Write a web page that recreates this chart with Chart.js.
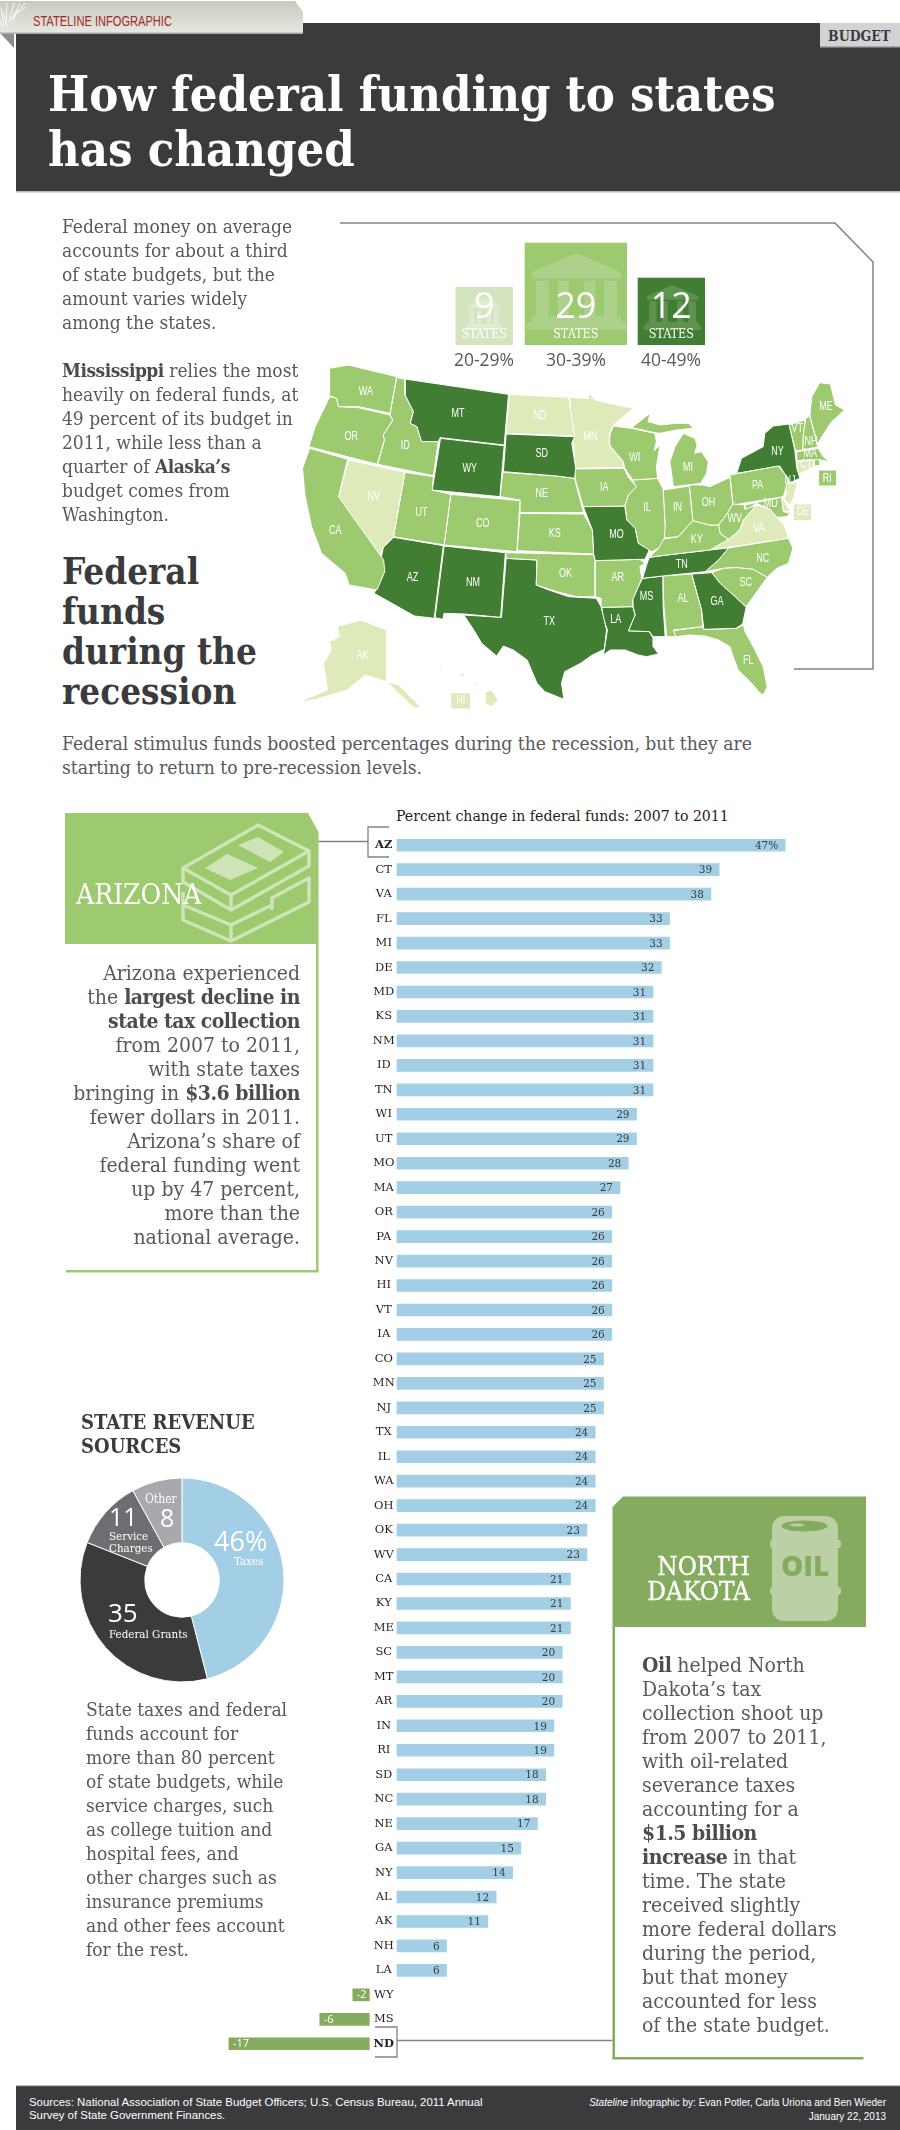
<!DOCTYPE html>
<html>
<head>
<meta charset="utf-8">
<title>How federal funding to states has changed</title>
<script src="https://cdn.jsdelivr.net/npm/chart.js@4"></script>
<style>
  html, body { margin: 0; padding: 0; background: #fff; }
  #page { position: relative; width: 900px; height: 2130px; overflow: hidden; font-family: "DejaVu Serif Condensed", "DejaVu Serif", serif; color: #58595b; }
  #page svg.bg { position: absolute; left: 0; top: 0; }
  canvas { position: absolute; }
  .t { position: absolute; white-space: nowrap; }
  .body { font-size: 19px; line-height: 24px; }
  .body b { color: #4b4c4e; letter-spacing: -0.5px; }
  .big { font-size: 21px; }
  .white { color: #fff; }
  .sans { font-family: "Open Sans", sans-serif; }
</style>
</head>
<body>
<div id="page">
<svg class="bg" width="900" height="2130" viewBox="0 0 900 2130">
  <defs>
    <linearGradient id="tabFill" x1="0" y1="0" x2="0" y2="1">
      <stop offset="0" stop-color="#c9c9bd"/><stop offset="1" stop-color="#e8e8e3"/>
    </linearGradient>
    <symbol id="temple" viewBox="0 0 100 100" preserveAspectRatio="none">
      <path fill="currentColor" d="M50 0 L95 25 L95 33 L5 33 L5 25 Z M9 36 H22 V82 H9 Z M31 36 H42 V82 H31 Z M58 36 H69 V82 H58 Z M78 36 H91 V82 H78 Z M5 82 H95 V90 H5 Z M0 90 H100 V100 H0 Z"/>
    </symbol>
  </defs>

  <!-- header -->
  <rect x="16" y="23" width="884" height="169" fill="#3b3b3d"/>
  <rect x="16" y="191" width="884" height="1.5" fill="#bcbec0"/>
  <polygon points="0,33 14,33 14,48" fill="#8a8c8e"/>
  <polygon points="0,1 295,1 303,12 303,33 0,33" fill="url(#tabFill)"/>
  <rect x="0" y="32.5" width="303" height="1.5" fill="#a7a9ac"/>
  <g stroke="#fff" stroke-width="1" opacity=".85">
    <line x1="4" y1="26" x2="1" y2="8"/><line x1="6" y1="24" x2="7" y2="3"/><line x1="9" y1="22" x2="14" y2="3"/>
    <line x1="11" y1="20" x2="20" y2="4"/><line x1="13" y1="18" x2="25" y2="3"/><line x1="14" y1="15" x2="26" y2="7"/>
    <line x1="3" y1="28" x2="0" y2="20"/><line x1="7" y1="26" x2="3" y2="12"/><line x1="12" y1="22" x2="18" y2="10"/>
  </g>
  <rect x="820" y="23" width="80" height="24" fill="#d1d3d4"/>
  <rect x="820" y="46" width="80" height="1.5" fill="#a7a9ac"/>

  <!-- frame around the map -->
  <polyline points="340,223 835,223 873,262 873,669 794,669" fill="none" stroke="#808285" stroke-width="1.5"/>

  <!-- legend tiles -->
  <rect x="455.5" y="287" width="57.5" height="58" fill="#d3e4bf"/>
  <svg x="466" y="298" width="36" height="32" color="#dfecd0"><use href="#temple" width="36" height="32"/></svg>
  <rect x="524.7" y="242.7" width="102.3" height="102.3" fill="#9dca6f"/>
  <svg x="527" y="253" width="99" height="77" color="#add18a"><use href="#temple" width="99" height="77"/></svg>
  <rect x="637.7" y="277.7" width="67.3" height="67.3" fill="#417e33"/>
  <svg x="644" y="285" width="57" height="45" color="#5d934f"><use href="#temple" width="57" height="45"/></svg>

  <!-- Arizona panel -->
  <polygon points="65,813 308,813 318.5,832 318.5,944 65,944" fill="#9dca6f"/>
  <g fill="none" stroke="#cfe4b8" stroke-width="3.5" stroke-linejoin="round">
    <polygon points="258,825 309,851 231,895 183,868"/>
    <polyline points="183,868 183,882 231,910 309,866 309,851"/>
    <line x1="231" y1="895" x2="231" y2="910"/>
    <polyline points="183,892 183,920 231,941 309,902 309,878 272,898 272,910"/>
    <line x1="231" y1="925" x2="231" y2="941"/>
    <line x1="183" y1="905" x2="231" y2="925"/>
    <line x1="231" y1="925" x2="272" y2="905"/>
  </g>
  <g fill="#cfe4b8">
    <polygon points="227,854 258,868 230,880 205,868"/>
    <polygon points="258,837 284,852 270,862 238,845"/>
  </g>
  <rect x="316" y="944" width="2.5" height="328" fill="#9dca6f"/>
  <rect x="66" y="1270" width="252.5" height="2.5" fill="#9dca6f"/>
  <polyline points="318.5,841.5 368,841.5" fill="none" stroke="#808285" stroke-width="1.3"/>
  <polyline points="389,827 368,827 368,857 389,857" fill="none" stroke="#808285" stroke-width="1.3"/>

  <!-- North Dakota panel -->
  <polygon points="623,1496.5 866,1496.5 866,1627 612.5,1627 612.5,1507" fill="#85ac5e"/>
  <rect x="612.5" y="1627" width="2.5" height="432" fill="#85ac5e"/>
  <rect x="612.5" y="2057" width="251" height="2.5" fill="#85ac5e"/>
  <g fill="#bbd0a4">
    <rect x="772" y="1516" width="66" height="105" rx="12"/>
    <rect x="770" y="1540" width="71" height="8" rx="3"/>
    <rect x="770" y="1587" width="71" height="8" rx="3"/>
  </g>
  <ellipse cx="804.5" cy="1526" rx="23" ry="5.5" fill="#85ac5e"/>
  <ellipse cx="797" cy="1525" rx="7" ry="1.6" fill="#bbd0a4"/>
  <polyline points="397,2040.5 612.5,2040.5" fill="none" stroke="#808285" stroke-width="1.3"/>
  <polyline points="375,2027 397,2027 397,2057 375,2057" fill="none" stroke="#808285" stroke-width="1.3"/>

  <!-- footer -->
  <rect x="16" y="2085" width="884" height="45" fill="#3b3b3d"/>
  <rect x="16" y="2085" width="884" height="1.2" fill="#bcbec0"/>
</svg>

<canvas id="mapChart" style="left:280px;top:210px" width="620" height="520"></canvas>
<canvas id="barChart" style="left:200px;top:832.5px" width="600" height="1223"></canvas>
<canvas id="donutChart" style="left:72px;top:1470px" width="220" height="220"></canvas>

<div class="t" style="left:33px;top:13px;font:15px/16px 'Liberation Sans',sans-serif;color:#9e2a2b;transform:scaleX(.74);transform-origin:left center;">STATELINE INFOGRAPHIC</div>
<div class="t" style="left:828px;top:27px;font-size:14px;line-height:18px;font-weight:bold;color:#3b3b3d;">BUDGET</div>
<div class="t white" style="left:48px;top:65.7px;font-size:48.5px;line-height:55px;font-weight:bold;">How federal funding to states<br>has changed</div>

<div class="t body" style="left:62px;top:214.4px;">Federal money on average<br>accounts for about a third<br>of state budgets, but the<br>amount varies widely<br>among the states.</div>
<div class="t body" style="left:62px;top:358.4px;"><b>Mississippi</b> relies the most<br>heavily on federal funds, at<br>49 percent of its budget in<br>2011, while less than a<br>quarter of <b>Alaska’s</b><br>budget comes from<br>Washington.</div>
<div class="t" style="left:62px;top:552.4px;font-size:36.5px;line-height:40px;font-weight:bold;color:#3b3b3d;">Federal<br>funds<br>during the<br>recession</div>
<div class="t body" style="left:62px;top:732.4px;font-size:19.15px;">Federal stimulus funds boosted percentages during the recession, but they are<br>starting to return to pre-recession levels.</div>

<!-- legend tile text -->
<div class="t white sans" style="left:455.5px;width:57.5px;top:280px;text-align:center;font-size:36px;line-height:50px;">9</div>
<div class="t white sans" style="left:524.7px;width:102.3px;top:280px;text-align:center;font-size:36px;line-height:50px;">29</div>
<div class="t white sans" style="left:637.7px;width:67.3px;top:280px;text-align:center;font-size:36px;line-height:50px;">12</div>
<div class="t white" style="left:455.5px;width:57.5px;top:326px;text-align:center;font-size:12.5px;line-height:16px;">STATES</div>
<div class="t white" style="left:524.7px;width:102.3px;top:326px;text-align:center;font-size:12.5px;line-height:16px;">STATES</div>
<div class="t white" style="left:637.7px;width:67.3px;top:326px;text-align:center;font-size:12.5px;line-height:16px;">STATES</div>
<div class="t sans" style="left:444px;width:80px;top:348px;text-align:center;font-size:17.5px;line-height:22px;">20-29%</div>
<div class="t sans" style="left:536px;width:80px;top:348px;text-align:center;font-size:17.5px;line-height:22px;">30-39%</div>
<div class="t sans" style="left:631px;width:80px;top:348px;text-align:center;font-size:17.5px;line-height:22px;">40-49%</div>

<!-- Arizona -->
<div class="t white" style="left:76px;top:878px;font-size:28px;line-height:34px;">ARIZONA</div>
<div class="t body big" style="left:30px;width:270px;top:960.7px;text-align:right;">Arizona experienced<br>the <b>largest decline in</b><br><b>state tax collection</b><br>from 2007 to 2011,<br>with state taxes<br>bringing in <b>$3.6 billion</b><br>fewer dollars in 2011.<br>Arizona’s share of<br>federal funding went<br>up by 47 percent,<br>more than the<br>national average.</div>
<div class="t" style="left:396px;top:806px;font-size:15.7px;line-height:20px;color:#231f20;">Percent change in federal funds: 2007 to 2011</div>

<!-- donut -->
<div class="t" style="left:81px;top:1410px;font-size:20px;line-height:24px;font-weight:bold;color:#3b3b3d;">STATE REVENUE<br>SOURCES</div>
<div class="t white sans" style="left:214px;top:1524px;font-size:27px;line-height:34px;">46%</div>
<div class="t white" style="left:234px;top:1554px;font-size:11.5px;line-height:14px;">Taxes</div>
<div class="t white" style="left:145px;top:1492px;font-size:12px;line-height:14px;">Other</div>
<div class="t white sans" style="left:160px;top:1500px;font-size:25px;line-height:34px;">8</div>
<div class="t white sans" style="left:109px;top:1499px;font-size:25px;line-height:34px;">11</div>
<div class="t white" style="left:109px;top:1530px;font-size:11.5px;line-height:12px;">Service<br>Charges</div>
<div class="t white sans" style="left:108px;top:1595px;font-size:26px;line-height:34px;">35</div>
<div class="t white" style="left:109px;top:1627px;font-size:11.5px;line-height:14px;">Federal Grants</div>
<div class="t body" style="left:86px;top:1697.4px;">State taxes and federal<br>funds account for<br>more than 80 percent<br>of state budgets, while<br>service charges, such<br>as college tuition and<br>hospital fees, and<br>other charges such as<br>insurance premiums<br>and other fees account<br>for the rest.</div>

<!-- North Dakota -->
<div class="t white" style="left:600px;width:150px;top:1554px;text-align:right;font-size:26px;line-height:25px;-webkit-text-stroke:.3px #fff;">NORTH<br>DAKOTA</div>
<div class="t" style="left:781px;top:1550px;font-size:28px;line-height:30px;font-weight:800;color:#85ac5e;font-family:'Open Sans',sans-serif;">OIL</div>
<div class="t body big" style="left:642px;top:1652.7px;"><b>Oil</b> helped North<br>Dakota’s tax<br>collection shoot up<br>from 2007 to 2011,<br>with oil-related<br>severance taxes<br>accounting for a<br><b>$1.5 billion</b><br><b>increase</b> in that<br>time. The state<br>received slightly<br>more federal dollars<br>during the period,<br>but that money<br>accounted for less<br>of the state budget.</div>

<!-- footer -->
<div class="t white" style="left:29px;top:2096px;font:11.4px/13px 'Liberation Sans',sans-serif;">Sources: National Association of State Budget Officers; U.S. Census Bureau, 2011 Annual<br>Survey of State Government Finances.</div>
<div class="t white" style="right:14px;top:2096px;text-align:right;font:10px/14px 'Liberation Sans',sans-serif;"><i>Stateline</i> infographic by: Evan Potler, Carla Uriona and Ben Wieder<br>January 22, 2013</div>
</div>

<script>
// percent change in federal funds, 2007 to 2011
const stateCodes = ["AZ","CT","VA","FL","MI","DE","MD","KS","NM","ID","TN","WI","UT","MO","MA","OR","PA","NV","HI","VT","IA","CO","MN","NJ","TX","IL","WA","OH","OK","WV","CA","KY","ME","SC","MT","AR","IN","RI","SD","NC","NE","GA","NY","AL","AK","NH","LA","WY","MS","ND"];
const pctChange = [47,39,38,33,33,32,31,31,31,31,31,29,29,28,27,26,26,26,26,26,26,25,25,25,24,24,24,24,23,23,21,21,21,20,20,20,19,19,18,18,17,15,14,12,11,6,6,-2,-6,-17];

// revenue sources
const revenueLabels = ["Taxes","Federal Grants","Service Charges","Other"];
const revenueValues = [46,35,11,8];

// map tiers: share of the state budget that comes from federal funds
const tierLow = ["ND","MN","NV","VA","AK","HI","DE","NJ","CT"];
const tierHigh = ["MT","WY","SD","MO","AZ","NM","TX","LA","MS","TN","GA","NY"];

// state outlines on a 1568 x 1560 grid
const WA = [[[125,475],[173,465],[295,500],[278,610],[240,600],[198,590],[148,590],[143,565],[126,557],[126,525]]];
const OR = [[[126,560],[143,565],[148,590],[198,593],[278,615],[285,630],[261,675],[264,690],[246,763],[73,710],[89,650]]];
const CA = [[[75,715],[171,748],[148,860],[262,1050],[265,1085],[245,1140],[175,1125],[165,1090],[105,1030],[80,950],[63,855],[57,775]]];
const NV = [[[173,750],[316,787],[287,980],[261,1013],[250,1040],[148,860]]];
const ID = [[[295,503],[316,507],[316,555],[337,605],[329,640],[346,650],[358,695],[400,695],[388,797],[247,763],[264,690],[261,675],[285,630],[278,613]]];
const MT = [[[316,507],[578,553],[567,705],[405,683],[400,697],[358,697],[346,650],[329,640],[337,605],[316,555]]];
const WY = [[[406,685],[567,707],[556,860],[385,840]]];
const UT = [[[316,787],[388,800],[385,840],[432,853],[415,1005],[287,980]]];
const CO = [[[432,853],[607,872],[599,1025],[415,1005]]];
const AZ = [[[287,982],[413,1007],[390,1225],[340,1218],[238,1150],[262,1090],[255,1050],[261,1013]]];
const NM = [[[415,1008],[570,1028],[558,1222],[465,1212],[415,1210],[412,1228],[392,1223]]];
const ND = [[[580,553],[730,562],[745,678],[572,670]]];
const SD = [[[572,672],[745,680],[738,700],[748,775],[745,805],[700,798],[565,785]]];
const NE = [[[563,787],[700,798],[745,805],[750,830],[768,908],[607,908],[607,870],[557,860]]];
const KS = [[[607,910],[768,912],[790,960],[793,1032],[600,1022]]];
const OK = [[[571,1028],[793,1034],[797,1052],[797,1160],[750,1160],[700,1145],[648,1125],[650,1050],[572,1045]]];
const TX = [[[572,1045],[650,1050],[648,1125],[680,1140],[730,1160],[800,1165],[812,1190],[826,1260],[820,1318],[790,1335],[760,1360],[720,1385],[712,1420],[718,1468],[670,1445],[650,1420],[625,1350],[590,1320],[565,1308],[548,1338],[510,1300],[490,1260],[465,1215],[560,1222]]];
const MN = [[[733,562],[780,565],[782,548],[797,570],[834,580],[893,595],[843,645],[834,670],[833,705],[868,755],[870,772],[746,775],[743,705],[740,690]]];
const IA = [[[746,777],[870,775],[881,802],[902,830],[881,855],[872,888],[767,890],[746,805]]];
const MO = [[[767,890],[872,888],[877,930],[898,955],[906,1000],[934,1020],[923,1048],[910,1048],[797,1052],[793,1032],[790,960]]];
const AR = [[[797,1052],[910,1048],[923,1060],[910,1070],[915,1105],[892,1170],[892,1190],[814,1192],[812,1165],[797,1160]]];
const LA = [[[814,1192],[892,1190],[898,1215],[881,1263],[934,1265],[944,1285],[944,1310],[957,1332],[927,1340],[906,1335],[873,1320],[835,1320],[818,1335],[828,1260],[816,1220]]];
const WI = [[[843,648],[889,655],[948,670],[952,695],[946,722],[961,705],[952,770],[955,805],[892,810],[872,775],[868,755],[833,705],[834,675]]];
const IL = [[[892,810],[955,805],[969,838],[974,950],[972,985],[957,1015],[940,1025],[906,1000],[898,955],[877,930],[872,887],[881,855],[900,830]]];
const MI = [[[889,653],[936,610],[931,635],[961,645],[999,640],[1033,640],[1045,655],[1003,660],[961,670],[948,668]],[[995,830],[986,755],[999,710],[1020,670],[1049,685],[1055,705],[1049,730],[1066,725],[1083,755],[1079,790],[1064,820]]];
const IN = [[[969,840],[1035,828],[1044,932],[1007,980],[965,985],[974,950]]];
const OH = [[[1035,825],[1070,825],[1087,830],[1138,802],[1145,882],[1130,912],[1109,945],[1087,945],[1044,932]]];
const KY = [[[965,988],[1007,980],[1044,932],[1087,945],[1109,945],[1113,970],[1134,988],[1087,1020],[978,1035],[934,1042],[957,1015]]];
const TN = [[[934,1042],[978,1035],[1087,1020],[1134,1014],[1109,1050],[1075,1085],[968,1098],[917,1105],[927,1065]]];
const MS = [[[917,1105],[968,1098],[969,1190],[974,1280],[944,1280],[934,1265],[881,1263],[898,1215],[889,1170],[906,1130]]];
const AL = [[[968,1098],[1041,1092],[1066,1200],[1069,1250],[995,1260],[1001,1280],[978,1280],[971,1190]]];
const GA = [[[1041,1092],[1092,1088],[1113,1120],[1151,1160],[1179,1192],[1170,1242],[1153,1255],[1072,1258],[1066,1200]]];
const FL = [[[993,1262],[1069,1250],[1072,1258],[1153,1255],[1172,1245],[1176,1265],[1197,1310],[1222,1370],[1232,1430],[1222,1455],[1210,1445],[1197,1425],[1159,1380],[1146,1340],[1138,1310],[1109,1290],[1075,1278],[1037,1275],[1001,1280]]];
const SC = [[[1092,1088],[1121,1075],[1155,1073],[1197,1078],[1232,1102],[1197,1160],[1179,1190],[1151,1160],[1113,1120]]];
const NC = [[[1134,1014],[1286,985],[1297,1015],[1286,1060],[1256,1075],[1232,1102],[1197,1078],[1155,1073],[1121,1075],[1075,1085],[1109,1050]]];
const VA = [[[1087,1020],[1109,1000],[1134,988],[1163,960],[1172,930],[1205,885],[1239,897],[1256,922],[1275,945],[1286,985]]];
const WV = [[[1113,970],[1109,945],[1130,912],[1145,882],[1176,885],[1176,898],[1205,885],[1172,930],[1163,960],[1134,988]]];
const PA = [[[1138,795],[1260,768],[1286,805],[1273,860],[1146,885]]];
const NY = [[[1287,642],[1302,720],[1307,775],[1315,805],[1290,818],[1264,768],[1155,790],[1167,745],[1222,710],[1226,670],[1248,648]],[[1305,810],[1340,785],[1312,803]]];
const NJ = [[[1286,805],[1305,815],[1307,825],[1300,860],[1290,885],[1275,868],[1282,845],[1272,835]]];
const DE = [[[1269,863],[1275,870],[1291,905],[1273,905]],[[1298,882],[1345,882],[1345,932],[1298,932]]];
const MD = [[[1176,885],[1214,875],[1269,862],[1273,905],[1290,910],[1281,920],[1256,922],[1239,897],[1205,880],[1180,900]]];
const CT = [[[1307,755],[1349,750],[1350,770],[1308,795]]];
const RI = [[[1350,750],[1364,748],[1366,765],[1352,768]],[[1362,780],[1408,780],[1408,828],[1362,828]]];
const MA = [[[1307,725],[1361,715],[1374,740],[1391,755],[1366,750],[1307,752]]];
const VT = [[[1287,645],[1328,630],[1323,680],[1322,720],[1304,722]]];
const NH = [[[1330,625],[1339,618],[1361,710],[1322,720],[1323,670]]];
const ME = [[[1340,618],[1345,560],[1365,518],[1392,522],[1405,585],[1428,600],[1395,635],[1365,690],[1360,705]]];
const AK = [[[145,1250],[205,1230],[270,1260],[270,1415],[300,1425],[355,1490],[340,1495],[300,1450],[270,1415],[215,1395],[170,1440],[90,1468],[45,1478],[120,1440],[110,1360],[130,1320],[125,1295],[150,1280]]];
const HI = [[[520,1445],[535,1440],[552,1470],[535,1490],[520,1480]],[[450,1385],[470,1395],[460,1400]],[[400,1365],[412,1370],[405,1375]],[[490,1415],[505,1425],[495,1425]],[[432,1448],[482,1448],[482,1497],[432,1497]]];

const stateShapes = {WA,OR,CA,NV,ID,MT,WY,UT,CO,AZ,NM,ND,SD,NE,KS,OK,TX,MN,IA,MO,AR,LA,WI,IL,MI,IN,OH,KY,TN,MS,AL,GA,FL,SC,NC,VA,WV,PA,NY,NJ,DE,MD,CT,RI,MA,VT,NH,ME,AK,HI};

// where each state's code sits on the same grid
const mapLabels = [["WA",217,546],["OR",180,679],["CA",140,961],["NV",237,861],["ID",317,708],["MT",450,610],["WY",480,777],["UT",358,909],["CO",513,942],["AZ",335,1104],["NM",488,1119],["ND",657,618],["SD",662,732],["NE",662,852],["KS",695,972],["OK",722,1092],["TX",681,1236],["MN",785,681],["IA",820,832],["MO",851,975],["AR",854,1102],["LA",849,1230],["WI",897,744],["IL",928,892],["MI",1032,774],["IN",1005,892],["OH",1084,879],["KY",1054,988],["TN",1016,1065],["MS",927,1161],["AL",1019,1167],["GA",1105,1176],["FL",1184,1353],["SC",1178,1119],["NC",1221,1047],["VA",1211,957],["WV",1150,927],["PA",1208,828],["NY",1258,726],["ME",1381,591],["VT",1308,655],["NH",1343,695],["MA",1341,730],["CT",1330,763],["RI",1384,807],["NJ",1290,812],["DE",1323,906],["MD",1241,880],["AK",209,1338],["HI",457,1473]];

const LOW = "#deeaba", MID = "#9dca6f", HIGH = "#417e33";

function tierColor(code) {
  if (tierLow.includes(code)) return LOW;
  if (tierHigh.includes(code)) return HIGH;
  return MID;
}

// --- map ---
const mapDatasets = [];
Object.keys(stateShapes).forEach(code => {
  stateShapes[code].forEach(part => {
    const closed = part.concat([part[0]]);
    mapDatasets.push({
      data: closed.map(p => ({x: p[0], y: p[1]})),
      showLine: true,
      fill: "shape",
      backgroundColor: tierColor(code),
      borderColor: "#fff",
      borderWidth: 1,
      pointRadius: 0,
      tension: 0
    });
  });
});

const mapLabelPlugin = {
  id: "mapLabels",
  afterDatasetsDraw(chart) {
    const {ctx, scales} = chart;
    ctx.save();
    ctx.font = "11px 'Liberation Sans', sans-serif";
    ctx.fillStyle = "#fff";
    ctx.textAlign = "center";
    ctx.textBaseline = "middle";
    mapLabels.forEach(l => {
      ctx.save();
      ctx.translate(scales.x.getPixelForValue(l[1]), scales.y.getPixelForValue(l[2]));
      ctx.scale(0.82, 1.1);
      ctx.fillText(l[0], 0, 0);
      ctx.restore();
    });
    ctx.restore();
  }
};

new Chart(document.getElementById("mapChart"), {
  type: "scatter",
  data: {datasets: mapDatasets},
  plugins: [mapLabelPlugin],
  options: {
    responsive: false,
    animation: false,
    layout: {padding: 0},
    plugins: {legend: {display: false}, tooltip: {enabled: false}},
    scales: {
      x: {type: "linear", min: 0, max: 1568, display: false},
      y: {type: "linear", min: 0, max: 1560, reverse: true, display: false}
    }
  }
});

// --- bars ---
// negative bars hang off their own zero, left of the state codes
const barValueLabels = {
  id: "barValueLabels",
  afterDatasetsDraw(chart) {
    const {ctx, scales} = chart;
    ctx.save();
    ctx.textBaseline = "middle";
    stateCodes.forEach((code, i) => {
      const y = scales.y.getPixelForTick(i);
      const v = pctChange[i];
      ctx.textAlign = "center";
      ctx.fillStyle = "#231f20";
      ctx.font = (code === "AZ" || code === "ND" ? "bold " : "") + "11.5px 'DejaVu Serif'";
      ctx.fillText(code, scales.xPos.getPixelForValue(-1.6), y);
      if (v > 0) {
        ctx.textAlign = "right";
        ctx.fillStyle = "#3b3b3d";
        ctx.font = "10.5px 'DejaVu Serif'";
        ctx.fillText(i === 0 ? v + "%" : v, scales.xPos.getPixelForValue(v) - 7, y + 1);
      } else {
        ctx.textAlign = "left";
        ctx.fillStyle = "#fff";
        ctx.font = "11px 'Open Sans', sans-serif";
        ctx.fillText(v, scales.xNeg.getPixelForValue(v) + 4, y + 0.5);
      }
    });
    ctx.restore();
  }
};

new Chart(document.getElementById("barChart"), {
  type: "bar",
  data: {
    labels: stateCodes,
    datasets: [
      {data: pctChange.map(v => v > 0 ? v : null), backgroundColor: "#a3cfe6", xAxisID: "xPos", barThickness: 12, grouped: false},
      {data: pctChange.map(v => v < 0 ? v : null), backgroundColor: "#85ac5e", xAxisID: "xNeg", barThickness: 12, grouped: false}
    ]
  },
  plugins: [barValueLabels],
  options: {
    indexAxis: "y",
    responsive: false,
    animation: false,
    layout: {padding: 0},
    plugins: {legend: {display: false}, tooltip: {enabled: false}},
    scales: {
      y: {type: "category", display: false},
      xPos: {type: "linear", axis: "x", min: -23.85, max: 48.79, display: false},
      xNeg: {type: "linear", axis: "x", min: -20.5, max: 52.14, display: false}
    }
  }
});

// --- donut ---
new Chart(document.getElementById("donutChart"), {
  type: "doughnut",
  data: {
    labels: revenueLabels,
    datasets: [{
      data: revenueValues,
      backgroundColor: ["#a3cfe6","#3b3b3d","#6d6e71","#a7a9ac"],
      borderColor: "#fff",
      borderWidth: 1
    }]
  },
  options: {
    responsive: false,
    animation: false,
    radius: 102,
    cutout: 40,
    layout: {padding: 0},
    plugins: {legend: {display: false}, tooltip: {enabled: false}}
  }
});
</script>
</body>
</html>
